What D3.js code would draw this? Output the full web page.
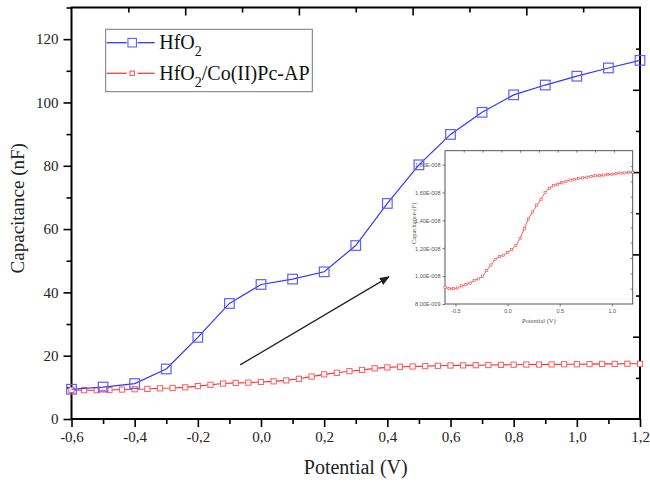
<!DOCTYPE html>
<html>
<head>
<meta charset="utf-8">
<script src="https://cdn.jsdelivr.net/npm/d3@7"></script>
<style>
  body { margin: 0; background: #fff; }
  svg { display: block; font-family: "Liberation Serif", "Times New Roman", serif; }
</style>
</head>
<body>
<div id="grafico"></div>
<script>
// Datos: HfO2 (cada 0,1 V)
var potencialHfO2 = [-0.6, -0.5, -0.4, -0.3, -0.2, -0.1, 0.0, 0.1, 0.2, 0.3, 0.4, 0.5, 0.6, 0.7, 0.8, 0.9, 1.0, 1.1, 1.2];
var capacitanciaHfO2 = [9.4, 10.1, 11.2, 15.8, 25.8, 36.5, 42.5, 44.2, 46.5, 54.8, 68.1, 80.3, 89.9, 96.9, 102.4, 105.5, 108.3, 110.9, 113.3];

// Datos: HfO2/Co(II)Pc-AP (cada 0,04 V)
var potencialCo = [-0.6, -0.56, -0.52, -0.48, -0.44, -0.4, -0.36, -0.32, -0.28, -0.24, -0.2, -0.16, -0.12, -0.08, -0.04,
  0.0, 0.04, 0.08, 0.12, 0.16, 0.2, 0.24, 0.28, 0.32, 0.36, 0.4, 0.44, 0.48, 0.52, 0.56, 0.6, 0.64, 0.68, 0.72, 0.76,
  0.8, 0.84, 0.88, 0.92, 0.96, 1.0, 1.04, 1.08, 1.12, 1.16, 1.2];
var capacitanciaCo = [9.2, 9.1, 9.1, 9.15, 9.3, 9.4, 9.5, 9.7, 9.8, 10.0, 10.4, 10.8, 11.2, 11.4, 11.5,
  11.7, 11.9, 12.2, 12.7, 13.4, 14.1, 14.6, 15.1, 15.5, 16.0, 16.3, 16.5, 16.6, 16.7, 16.8, 16.9, 16.95, 17.0, 17.05, 17.1,
  17.15, 17.2, 17.2, 17.25, 17.3, 17.3, 17.35, 17.4, 17.4, 17.45, 17.45];

// Ticks
var ticksX = [-0.6, -0.4, -0.2, 0.0, 0.2, 0.4, 0.6, 0.8, 1.0, 1.2];
var ticksXMenores = [-0.5, -0.3, -0.1, 0.1, 0.3, 0.5, 0.7, 0.9, 1.1];
var ticksY = [0, 20, 40, 60, 80, 100, 120];
var ticksYMenores = [10, 30, 50, 70, 90, 110, 130];
var ticksMarco = [2, 4, 6, 8];          // ejes superior y derecho (10 divisiones)
var ticksMarcoMenores = [1, 3, 5, 7, 9];

// Inset (capacitancia en F)
var ticksInsetX = [-0.5, 0.0, 0.5, 1.0];
var ticksInsetY = [8e-9, 1e-8, 1.2e-8, 1.4e-8, 1.6e-8, 1.8e-8];

// Flecha (coordenadas de datos)
var flechaInicio = [-0.066, 17.1];
var flechaFin = [0.405, 44.9];

var svgWidth = 650, svgHeight = 485;
var margin = {top: 7.5, right: 10, bottom: 66, left: 71.5};
var width = svgWidth - margin.left - margin.right;
var height = svgHeight - margin.top - margin.bottom;

var xScale = d3.scaleLinear().domain([-0.6, 1.2]).range([0, width]);
var yScale = d3.scaleLinear().domain([0, 130]).range([height, 0]);
var marcoX = d3.scaleLinear().domain([0, 10]).range([0, width]);
var marcoY = d3.scaleLinear().domain([0, 10]).range([height, 0]);

function coma(d) { return d3.format(".1f")(d).replace(".", ",").replace("\u2212", "-"); }

var svg = d3.select("#grafico")
    .append("svg")
    .attr("width", svgWidth)
    .attr("height", svgHeight)
  .append("g")
    .attr("transform", "translate(" + margin.left + "," + margin.top + ")");

// Ejes principales
function estiloEje(g) {
  g.select(".domain").remove();
  g.attr("font-family", "Liberation Serif").attr("font-size", 15);
  g.selectAll(".tick line").attr("stroke", "#000").attr("stroke-width", 1.6);
  g.selectAll("text").attr("fill", "#222");
}

svg.append("g")
    .attr("transform", "translate(0," + height + ")")
    .call(d3.axisBottom(xScale).tickValues(ticksX).tickSize(8).tickPadding(4).tickFormat(coma))
    .call(estiloEje);
svg.append("g")
    .attr("transform", "translate(0," + height + ")")
    .call(d3.axisBottom(xScale).tickValues(ticksXMenores).tickSize(5).tickFormat(""))
    .call(estiloEje);

svg.append("g")
    .call(d3.axisLeft(yScale).tickValues(ticksY).tickSize(8).tickPadding(5).tickFormat(d3.format("d")))
    .call(estiloEje);
svg.append("g")
    .call(d3.axisLeft(yScale).tickValues(ticksYMenores).tickSize(5).tickFormat(""))
    .call(estiloEje);

// Eje superior y derecho (ticks hacia dentro)
svg.append("g")
    .call(d3.axisBottom(marcoX).tickValues(ticksMarco).tickSize(8).tickFormat(""))
    .call(estiloEje);
svg.append("g")
    .call(d3.axisBottom(marcoX).tickValues(ticksMarcoMenores).tickSize(5).tickFormat(""))
    .call(estiloEje);
svg.append("g")
    .attr("transform", "translate(" + width + ",0)")
    .call(d3.axisLeft(marcoY).tickValues(ticksMarco).tickSize(7).tickFormat(""))
    .call(estiloEje);
svg.append("g")
    .attr("transform", "translate(" + width + ",0)")
    .call(d3.axisLeft(marcoY).tickValues(ticksMarcoMenores).tickSize(4).tickFormat(""))
    .call(estiloEje);

// Marco
svg.append("rect")
    .attr("width", width)
    .attr("height", height)
    .attr("fill", "none")
    .attr("stroke", "#000")
    .attr("stroke-width", 2);

// Titulos de ejes
svg.append("text")
    .attr("x", width / 2)
    .attr("y", height + 55)
    .style("text-anchor", "middle")
    .style("font-size", "20px")
    .attr("fill", "#222")
    .text("Potential (V)");

svg.append("text")
    .attr("transform", "rotate(-90)")
    .attr("x", -height / 2 + 5)
    .attr("y", -48)
    .style("text-anchor", "middle")
    .style("font-size", "19px")
    .attr("fill", "#222")
    .text("Capacitance (nF)");

// ---- Inset ----
var inset = {x: 373.5, y: 143.2, w: 187.7, h: 153.3};
var ix = d3.scaleLinear().domain([-0.6, 1.2]).range([0, inset.w]);
var iy = d3.scaleLinear().domain([8e-9, 1.9e-8]).range([inset.h, 0]);
var ins = svg.append("g").attr("transform", "translate(" + inset.x + "," + inset.y + ")");

function formatoE(d) {
  var e = Math.floor(Math.log10(d) + 1e-9);
  var m = d / Math.pow(10, e);
  var s = m.toFixed(2).replace(".", ",");
  return s + "E-" + d3.format("03d")(-e);
}

function estiloInset(g) {
  g.select(".domain").remove();
  g.attr("font-family", "Liberation Sans").attr("font-size", 5.5);
  g.selectAll(".tick line").attr("stroke", "#444").attr("stroke-width", 0.7);
  g.selectAll("text").attr("fill", "#555");
}

ins.append("g")
    .attr("transform", "translate(0," + inset.h + ")")
    .call(d3.axisBottom(ix).tickValues(ticksInsetX).tickSize(2.5).tickPadding(3)
      .tickFormat(function(d) { return d3.format(".1f")(d).replace("\u2212", "-"); }))
    .call(estiloInset);
ins.append("g")
    .call(d3.axisLeft(iy).tickValues(ticksInsetY).tickSize(2.5).tickPadding(2).tickFormat(formatoE))
    .call(estiloInset);
ins.append("g")
    .call(d3.axisBottom(d3.scaleLinear().domain([0, 10]).range([0, inset.w])).tickValues(ticksMarco.concat(ticksMarcoMenores)).tickSize(2).tickFormat(""))
    .call(estiloInset);
ins.append("g")
    .attr("transform", "translate(" + inset.w + ",0)")
    .call(d3.axisLeft(d3.scaleLinear().domain([0, 10]).range([inset.h, 0])).tickValues(ticksMarco.concat(ticksMarcoMenores)).tickSize(2).tickFormat(""))
    .call(estiloInset);

ins.append("rect")
    .attr("width", inset.w)
    .attr("height", inset.h)
    .attr("fill", "none")
    .attr("stroke", "#444")
    .attr("stroke-width", 0.9);

ins.append("text")
    .attr("x", inset.w / 2)
    .attr("y", inset.h + 19)
    .style("text-anchor", "middle")
    .style("font-size", "6.5px")
    .attr("fill", "#555")
    .text("Potential (V)");
ins.append("text")
    .attr("transform", "rotate(-90)")
    .attr("x", -inset.h / 2 + 4)
    .attr("y", -29)
    .style("text-anchor", "middle")
    .style("font-size", "6.5px")
    .attr("fill", "#555")
    .text("Capacitance (F)");

var lineaInset = d3.line()
    .x(function(d, i) { return ix(potencialCo[i]); })
    .y(function(d) { return iy(d * 1e-9); });

ins.append("path")
    .datum(capacitanciaCo)
    .attr("d", lineaInset)
    .attr("fill", "none")
    .attr("stroke", "#ff3030")
    .attr("stroke-width", 0.8);

ins.selectAll(".pto")
    .data(capacitanciaCo)
  .enter().append("rect")
    .attr("x", function(d, i) { return ix(potencialCo[i]) - 1.1; })
    .attr("y", function(d) { return iy(d * 1e-9) - 1.1; })
    .attr("width", 2.2)
    .attr("height", 2.2)
    .attr("fill", "#fff")
    .attr("stroke", "#ff4040")
    .attr("stroke-width", 0.6);

// ---- Series principales ----
var lineaCo = d3.line()
    .x(function(d, i) { return xScale(potencialCo[i]); })
    .y(function(d) { return yScale(d); });

svg.append("path")
    .datum(capacitanciaCo)
    .attr("d", lineaCo)
    .attr("fill", "none")
    .attr("stroke", "#ff2a2a")
    .attr("stroke-width", 1.1);

svg.selectAll(".puntoCo")
    .data(capacitanciaCo)
  .enter().append("rect")
    .attr("x", function(d, i) { return xScale(potencialCo[i]) - 2.6; })
    .attr("y", function(d) { return yScale(d) - 2.6; })
    .attr("width", 5.2)
    .attr("height", 5.2)
    .attr("fill", "#fff")
    .attr("stroke", "#ff5a5a")
    .attr("stroke-width", 1);

var lineaHfO2 = d3.line()
    .x(function(d, i) { return xScale(potencialHfO2[i]); })
    .y(function(d) { return yScale(d); });

svg.append("path")
    .datum(capacitanciaHfO2)
    .attr("d", lineaHfO2)
    .attr("fill", "none")
    .attr("stroke", "#3434ff")
    .attr("stroke-width", 1.2);

svg.selectAll(".puntoHf")
    .data(capacitanciaHfO2)
  .enter().append("rect")
    .attr("x", function(d, i) { return xScale(potencialHfO2[i]) - 4.8; })
    .attr("y", function(d) { return yScale(d) - 4.8; })
    .attr("width", 9.6)
    .attr("height", 9.6)
    .attr("fill", "none")
    .attr("stroke", "#5e5eff")
    .attr("stroke-width", 1.2);

// Flecha
svg.append("defs").append("marker")
    .attr("id", "punta")
    .attr("viewBox", "0 0 10 10")
    .attr("refX", 9).attr("refY", 5)
    .attr("markerWidth", 10).attr("markerHeight", 10)
    .attr("markerUnits", "userSpaceOnUse")
    .attr("orient", "auto")
  .append("path")
    .attr("d", "M0,1 L10,5 L0,9 Z")
    .attr("fill", "#222");

svg.append("line")
    .attr("x1", xScale(flechaInicio[0])).attr("y1", yScale(flechaInicio[1]))
    .attr("x2", xScale(flechaFin[0])).attr("y2", yScale(flechaFin[1]))
    .attr("stroke", "#222")
    .attr("stroke-width", 1.2)
    .attr("marker-end", "url(#punta)");

// ---- Leyenda ----
var leyenda = svg.append("g").attr("transform", "translate(34.2,21.8)");
leyenda.append("rect")
    .attr("width", 206.6)
    .attr("height", 62.4)
    .attr("fill", "#fff")
    .attr("stroke", "#777")
    .attr("stroke-width", 1);

var series = [
  {nombre: "HfO", resto: "", color: "#3434ff", marca: "#5e5eff", lado: 8.5, y: 13.4},
  {nombre: "HfO", resto: "/Co(II)Pc-AP", color: "#ff3a3a", marca: "#ff5a5a", lado: 4.4, y: 44}
];

series.forEach(function(s) {
  leyenda.append("line").attr("x1", 1).attr("x2", 21).attr("y1", s.y).attr("y2", s.y)
      .attr("stroke", s.color).attr("stroke-width", 1.3);
  leyenda.append("line").attr("x1", 32).attr("x2", 49).attr("y1", s.y).attr("y2", s.y)
      .attr("stroke", s.color).attr("stroke-width", 1.3);
  leyenda.append("rect")
      .attr("x", 26.5 - s.lado / 2).attr("y", s.y - s.lado / 2)
      .attr("width", s.lado).attr("height", s.lado)
      .attr("fill", "#fff").attr("stroke", s.marca).attr("stroke-width", 1.1);
  var t = leyenda.append("text")
      .attr("x", 53.5)
      .attr("y", s.y + 6.5)
      .style("font-size", "20px")
      .attr("fill", "#111");
  t.append("tspan").text(s.nombre);
  t.append("tspan").attr("dy", 7).style("font-size", "14px").text("2");
  if (s.resto) t.append("tspan").attr("dy", -7).text(s.resto);
});
</script>
</body>
</html>
